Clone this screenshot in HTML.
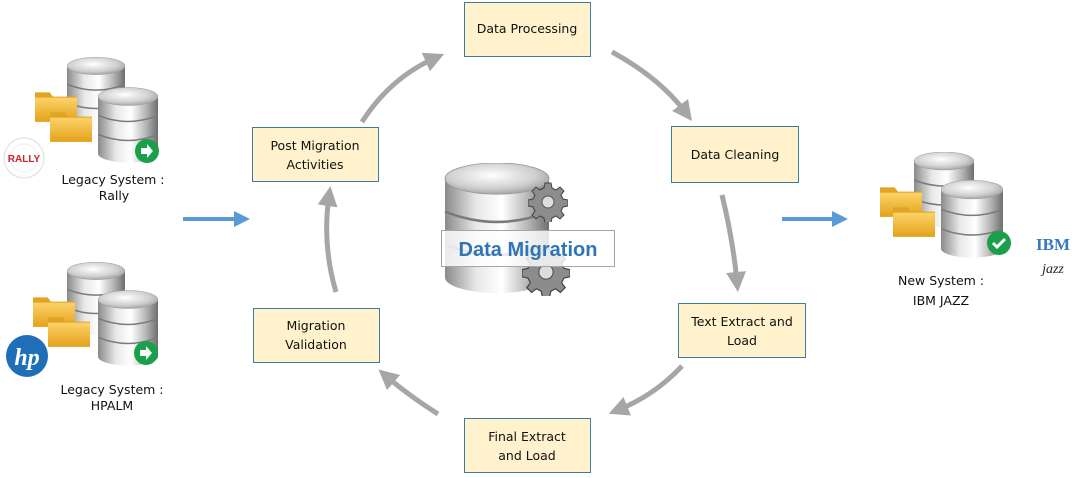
<!DOCTYPE html>
<html><head><meta charset="utf-8"><style>
body{margin:0;background:#fff;width:1088px;height:474px;overflow:hidden;font-family:"DejaVu Sans","Liberation Sans",sans-serif}
</style></head><body>
<svg width="1088" height="474" viewBox="0 0 1088 474" xmlns="http://www.w3.org/2000/svg">
<defs>
<linearGradient id="side" x1="0" x2="1" y1="0" y2="0">
<stop offset="0" stop-color="#8a8a8a"/><stop offset="0.3" stop-color="#e8e8e8"/><stop offset="0.55" stop-color="#ffffff"/><stop offset="0.8" stop-color="#b5b5b5"/><stop offset="1" stop-color="#6e6e6e"/>
</linearGradient>
<radialGradient id="top" cx="0.45" cy="0.4" r="0.7">
<stop offset="0" stop-color="#ffffff"/><stop offset="0.6" stop-color="#cfcfcf"/><stop offset="1" stop-color="#8f8f8f"/>
</radialGradient>
<linearGradient id="fold" x1="0" x2="0" y1="0" y2="1">
<stop offset="0" stop-color="#fcd36a"/><stop offset="1" stop-color="#e3a21a"/>
</linearGradient>
<symbol id="db" viewBox="0 0 60 75">
<rect x="0" y="9" width="60" height="57" fill="url(#side)"/>
<ellipse cx="30" cy="66" rx="30" ry="9" fill="url(#side)"/>
<path d="M0 28 Q30 40 60 28" stroke="#7a7a7a" stroke-width="1.5" fill="none"/>
<path d="M0 47 Q30 59 60 47" stroke="#7a7a7a" stroke-width="1.5" fill="none"/>
<ellipse cx="30" cy="9" rx="30" ry="9" fill="url(#top)" stroke="#9a9a9a" stroke-width="0.5"/>
</symbol>
<symbol id="folder" viewBox="0 0 40 32">
<path d="M0 4 h14 l3 4 h23 v24 h-40z" fill="#e0a422"/>
<rect x="0" y="9" width="40" height="23" fill="url(#fold)"/>
</symbol>
<symbol id="gear" viewBox="-20 -20 40 40">
<g fill="#8c8c8c" stroke="#444" stroke-width="1">
<path d="M-3 -19 h6 l1 5 4 2 4 -3 4 4 -3 4 2 4 5 1 v6 l-5 1 -2 4 3 4 -4 4 -4 -3 -4 2 -1 5 h-6 l-1 -5 -4 -2 -4 3 -4 -4 3 -4 -2 -4 -5 -1 v-6 l5 -1 2 -4 -3 -4 4 -4 4 3 4 -2z"/>
</g>
<circle r="6" fill="#ddd" stroke="#555"/>
</symbol>
<marker id="ga" markerWidth="4" markerHeight="4" refX="2" refY="2" orient="auto" markerUnits="strokeWidth">
<path d="M0 0 L4 2 L0 4z" fill="#a6a6a6"/>
</marker>
<marker id="ba" markerWidth="4" markerHeight="4" refX="2" refY="2" orient="auto" markerUnits="strokeWidth">
<path d="M0 0 L4 2 L0 4z" fill="#5b9bd5"/>
</marker>
</defs>

<g stroke="#a6a6a6" stroke-width="5" fill="none">
<path d="M362 122 Q390 78 435 58" marker-end="url(#ga)"/>
<path d="M612 52 Q660 78 686 113" marker-end="url(#ga)"/>
<path d="M722 195 Q733 240 737 282" marker-end="url(#ga)"/>
<path d="M682 366 Q655 395 618 410" marker-end="url(#ga)"/>
<path d="M438 414 Q408 395 386 376" marker-end="url(#ga)"/>
<path d="M336 292 Q322 245 329 196" marker-end="url(#ga)"/>
</g>
<g stroke="#5b9bd5" stroke-width="4" fill="none">
<line x1="183" y1="219" x2="242" y2="219" marker-end="url(#ba)"/>
<line x1="782" y1="219" x2="840" y2="219" marker-end="url(#ba)"/>
</g>

<g fill="#fff2cc" stroke="#3a7d9c" stroke-width="1">
<rect x="464.5" y="2.5" width="126" height="54"/>
<rect x="671.5" y="126.5" width="127" height="56"/>
<rect x="678.5" y="303.5" width="127" height="54"/>
<rect x="464.5" y="418.5" width="126" height="54"/>
<rect x="253.5" y="308.5" width="126" height="54"/>
<rect x="252.5" y="127.5" width="126" height="54"/>
</g>
<g font-size="12.5" fill="#111" text-anchor="middle">
<text x="527" y="33">Data Processing</text>
<text x="735" y="159">Data Cleaning</text>
<text x="742" y="326">Text Extract and</text><text x="742" y="345">Load</text>
<text x="527" y="441">Final Extract</text><text x="527" y="460">and Load</text>
<text x="316" y="330">Migration</text><text x="316" y="349">Validation</text>
<text x="315" y="150">Post Migration</text><text x="315" y="169">Activities</text>
</g>

<use href="#db" x="444" y="163" width="106" height="130"/>
<use href="#gear" x="528" y="182" width="40" height="40"/>
<use href="#gear" x="522" y="248" width="48" height="48"/>
<rect x="441.5" y="230.5" width="173" height="36" fill="#fff" fill-opacity="0.82" stroke="#9aa" />
<text x="528" y="256" text-anchor="middle" font-family="Liberation Sans,sans-serif" font-weight="bold" font-size="20" fill="#2e75b6">Data Migration</text>

<use href="#db" x="67" y="57" width="58" height="73"/>
<use href="#folder" x="35" y="88" width="42" height="34"/>
<use href="#folder" x="50" y="108" width="42" height="34"/>
<use href="#db" x="98" y="87" width="60" height="76"/>
<circle cx="147" cy="151" r="12" fill="#1aa04a"/>
<path d="M141 148 h6 v-4 l6 7 -6 7 v-4 h-6z" fill="#fff"/>
<circle cx="24" cy="158" r="20" fill="#fff" stroke="#ddd"/>
<circle cx="24" cy="158" r="14" fill="none" stroke="#eee"/>
<text x="24" y="162" text-anchor="middle" font-family="Liberation Sans,sans-serif" font-weight="bold" font-size="10" fill="#c8262b">RALLY</text>
<g font-size="12.5" fill="#111" text-anchor="middle">
<text x="113" y="184">Legacy System :</text><text x="114" y="200">Rally</text>
</g>

<use href="#db" x="67" y="262" width="58" height="73"/>
<use href="#folder" x="33" y="293" width="42" height="34"/>
<use href="#folder" x="48" y="313" width="42" height="34"/>
<use href="#db" x="98" y="290" width="60" height="76"/>
<circle cx="146" cy="353" r="12" fill="#1aa04a"/>
<path d="M140 350 h6 v-4 l6 7 -6 7 v-4 h-6z" fill="#fff"/>
<circle cx="27" cy="356" r="21" fill="#1f6fb8"/>
<text x="27" y="365" text-anchor="middle" font-family="Liberation Serif,serif" font-style="italic" font-weight="bold" font-size="24" fill="#fff">hp</text>
<g font-size="12.5" fill="#111" text-anchor="middle">
<text x="112" y="394">Legacy System :</text><text x="112" y="410">HPALM</text>
</g>

<use href="#db" x="913" y="152" width="62" height="75"/>
<use href="#folder" x="880" y="183" width="42" height="34"/>
<use href="#folder" x="893" y="203" width="42" height="34"/>
<use href="#db" x="941" y="180" width="62" height="78"/>
<circle cx="999" cy="243" r="12" fill="#1aa04a"/>
<path d="M993 243 l4 4 8 -8" stroke="#fff" stroke-width="3" fill="none"/>
<text x="1053" y="250" text-anchor="middle" font-family="Liberation Serif,serif" font-weight="bold" font-size="17" fill="#3a78c0">IBM</text>
<text x="1053" y="273" text-anchor="middle" font-family="Liberation Serif,serif" font-style="italic" font-size="14" fill="#222">jazz</text>
<g font-size="12.5" fill="#111" text-anchor="middle">
<text x="941" y="285">New System :</text><text x="941" y="305">IBM JAZZ</text>
</g>
</svg>
</body></html>
